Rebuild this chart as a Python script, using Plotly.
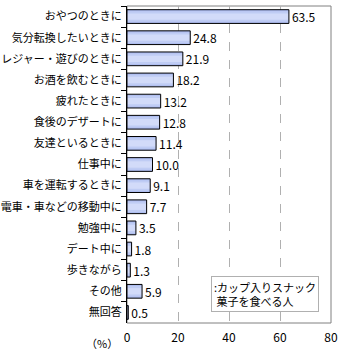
import plotly.graph_objects as go

categories = ["おやつのときに", "気分転換したいときに", "レジャー・遊びのときに", "お酒を飲むときに",
              "疲れたときに", "食後のデザートに", "友達といるときに", "仕事中に",
              "車を運転するときに", "電車・車などの移動中に", "勉強中に", "デート中に",
              "歩きながら", "その他", "無回答"]
values = [63.5, 24.8, 21.9, 18.2, 13.2, 12.8, 11.4, 10.0, 9.1, 7.7, 3.5, 1.8, 1.3, 5.9, 0.5]
x_ticks = [0, 20, 40, 60, 80]
legend_text = ":カップ入りスナック<br> 菓子を食べる人"

FONT = "Noto Sans CJK JP"

fig = go.Figure()
# gradient-like fill built from stacked overlay layers
for w, c in [(0.65, "#aebdf0"), (0.5, "#bfccf4"), (0.3, "#d2dbf9")]:
    fig.add_trace(go.Bar(
        x=values, y=categories, orientation="h", width=w,
        marker=dict(color=c, line=dict(width=0)), hoverinfo="skip",
    ))
# outline + labels
fig.add_trace(go.Bar(
    x=values, y=categories, orientation="h", width=0.65,
    marker=dict(color="rgba(0,0,0,0)", line=dict(color="#000000", width=1)),
    text=[f"{v:.1f}" for v in values], textposition="outside",
    constraintext="none",
    textfont=dict(size=12, color="#000", family=FONT),
    cliponaxis=False,
))

fig.update_layout(
    width=340, height=355,
    margin=dict(l=127, r=9, t=6, b=32),
    paper_bgcolor="white", plot_bgcolor="white",
    showlegend=False, barmode="overlay",
    font=dict(family=FONT, size=12, color="#000"),
    xaxis=dict(range=[0, 80], tickvals=x_ticks, ticktext=[str(t) for t in x_ticks],
               showgrid=True, gridcolor="#b0b0b0", griddash="dash", gridwidth=1,
               showline=False, zeroline=False, ticks="", ticklabelstandoff=6,
               automargin=False, tickfont=dict(size=12, family=FONT)),
    yaxis=dict(autorange="reversed", showline=True, linecolor="#000", linewidth=1,
               ticks="outside", tickson="boundaries", ticklen=5, tickcolor="#000",
               showgrid=False, zeroline=False, ticklabelstandoff=2, automargin=False,
               tickfont=dict(size=11, family=FONT)),
    shapes=[dict(type="rect", xref="paper", yref="paper", x0=0, x1=1, y0=0, y1=1,
                 line=dict(color="#808080", width=1), layer="below")],
    annotations=[
        dict(text=legend_text, xref="paper", yref="paper", x=0.412, y=0.148,
             xanchor="left", yanchor="top", showarrow=False, align="left",
             bordercolor="#b0b0b0", borderwidth=1, borderpad=2, bgcolor="white",
             font=dict(size=11, family=FONT)),
        dict(text="（%）", xref="paper", yref="paper", x=-0.035, y=-0.03,
             xanchor="right", yanchor="top", showarrow=False,
             font=dict(size=11, family=FONT)),
    ],
)

fig.write_html("out.html")
